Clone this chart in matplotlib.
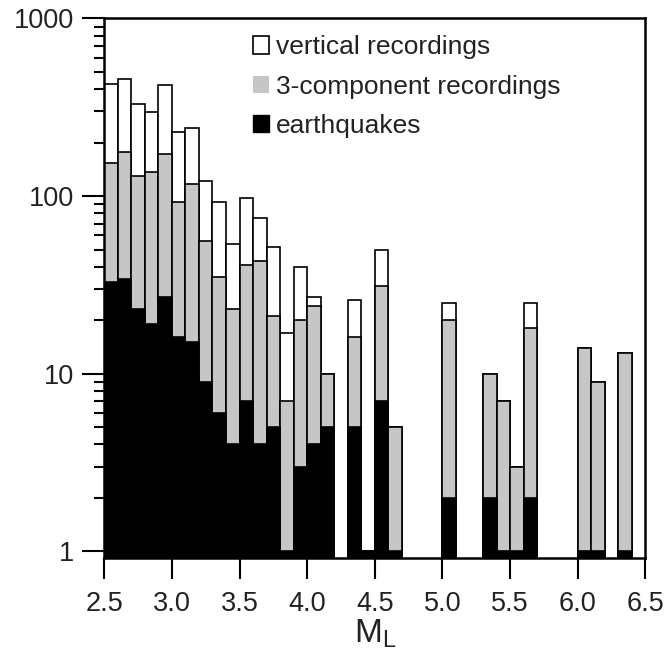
import numpy as np
import matplotlib
matplotlib.use("Agg")
import matplotlib.pyplot as plt
from matplotlib.patches import Patch

plt.rcParams['font.family'] = ['Liberation Sans', 'DejaVu Sans']

# magnitude bins (left edges), width 0.1
ml_bins = np.round(np.arange(2.5, 6.5, 0.1), 1)

# counts per bin (0 = empty bin)
vertical = [430, 455, 328, 298, 421, 230, 242, 122, 93, 54,
            98, 75, 52, 17, 40, 27, 10, 0, 26, 1,
            50, 5, 0, 0, 0, 25, 0, 0, 10, 7,
            3, 25, 0, 0, 0, 14, 9, 0, 13, 0]
three_comp = [154, 177, 129, 137, 173, 93, 117, 56, 35, 23,
              41, 43, 21, 7, 20, 24, 10, 0, 16, 1,
              31, 5, 0, 0, 0, 20, 0, 0, 10, 7,
              3, 18, 0, 0, 0, 14, 9, 0, 13, 0]
earthquakes = [33, 34, 23, 19, 27, 16, 15, 9, 6, 4,
               7, 4, 5, 1, 3, 4, 5, 0, 5, 1,
               7, 1, 0, 0, 0, 2, 0, 0, 2, 1,
               1, 2, 0, 0, 0, 1, 1, 0, 1, 0]

labels = ['vertical recordings', '3-component recordings', 'earthquakes']
colors = ['white', '#c6c6c6', 'black']

ymin = 0.92

fig = plt.figure(figsize=(6.64, 6.57), dpi=100)
ax = fig.add_axes([0.157, 0.151, 0.815, 0.821])

# overlapping (not stacked) bars, all starting at the bottom of the axis
for vals, col in zip([vertical, three_comp, earthquakes], colors):
    vals = np.array(vals, dtype=float)
    keep = vals > 0
    ax.bar(ml_bins[keep], vals[keep] - ymin, bottom=ymin, width=0.1,
           align='edge', color=col, edgecolor='black', linewidth=1.2)

ax.set_yscale('log')
ax.set_ylim(ymin, 1000)
ax.set_xlim(2.5, 6.5)
ax.set_xticks(np.arange(2.5, 6.51, 0.5))
ax.set_xticklabels(['%.1f' % v for v in np.arange(2.5, 6.51, 0.5)])
ax.set_yticks([1, 10, 100, 1000])
ax.set_yticklabels(['1', '10', '100', '1000'])

for s in ax.spines.values():
    s.set_linewidth(1.8)

ax.tick_params(axis='both', which='major', direction='out', labelsize=19.5,
               width=1.5, color='black', labelcolor='#222222')
ax.tick_params(axis='y', which='major', length=16, pad=6)
ax.tick_params(axis='y', which='minor', length=7.5, width=1.5, direction='out')
ax.tick_params(axis='x', which='major', length=15, pad=9)
ax.tick_params(axis='x', which='minor', bottom=False)

ax.set_xlabel(r'$\mathregular{M_L}$', fontsize=24, labelpad=0, color='#222222')

handles = [Patch(facecolor='white', edgecolor='black', linewidth=1.2),
           Patch(facecolor='#c6c6c6', edgecolor='none'),
           Patch(facecolor='black', edgecolor='black')]
ax.legend(handles, labels, loc='upper left', bbox_to_anchor=(0.24, 1.003),
          frameon=False, fontsize=19, handlelength=0.62, handleheight=0.62,
          handletextpad=0.25, labelspacing=0.58, borderaxespad=0.3,
          labelcolor='#222222')

fig.savefig('out.png', dpi=100)
